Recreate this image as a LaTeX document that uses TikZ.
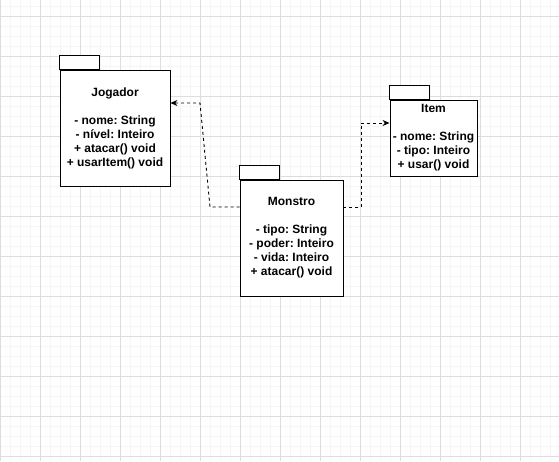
\documentclass[tikz,border=0pt]{standalone}
\usepackage{fontspec}
\setmainfont{Liberation Sans}
\usetikzlibrary{arrows.meta}

\definecolor{gridminor}{HTML}{F5F5F5}
\definecolor{gridmajor}{HTML}{DDDDDD}

\tikzset{
  classbox/.style={draw, line width=0.9pt, fill=white, align=center,
    font=\frenchspacing\bfseries\fontsize{12}{14}\selectfont, inner sep=0pt},
  classtab/.style={draw, line width=0.9pt, fill=white},
  dep/.style={line width=0.9pt, dash pattern=on 3pt off 3pt, -{Stealth[length=7pt,width=6pt]}}
}

\begin{document}
\begin{tikzpicture}[x=1pt,y=-1pt]

\useasboundingbox (0,0) rectangle (559,461);
\fill[white] (0,0) rectangle (559,461);

\foreach \gx in {0,10,...,550} \draw[gridminor, line width=0.7pt] (\gx,0) -- (\gx,461);
\foreach \gy in {6,16,...,456} \draw[gridminor, line width=0.7pt] (0,\gy) -- (559,\gy);
\foreach \gx in {0,40,...,520} \draw[gridmajor, line width=0.8pt] (\gx,0) -- (\gx,461);
\foreach \gy in {16,56,...,456} \draw[gridmajor, line width=0.8pt] (0,\gy) -- (559,\gy);

\node[classbox, minimum width=110pt, minimum height=116pt] (jogador) at (115,128)
  {Jogador\\ \\- nome: String\\- nível: Inteiro\\+ atacar() void\\+ usarItem() void};
\draw[classtab] (jogador.north west) rectangle ++(40,-14);

\node[classbox, minimum width=103pt, minimum height=116pt] (monstro) at (291.5,238)
  {Monstro\\ \\- tipo: String\\- poder: Inteiro\\- vida: Inteiro\\+ atacar() void};
\draw[classtab] (monstro.north west) rectangle ++(40,-14);

\node[classbox, minimum width=87pt, minimum height=76pt] (item) at (433.5,138)
  {Item\\ \\- nome: String\\- tipo: Inteiro\\+ usar() void};
\draw[classtab] (item.north west) rectangle ++(40,-14);

\coordinate (bendA) at (210,207);
\coordinate (bendB) at (200,103);
\coordinate (bendC) at (361,207);
\coordinate (bendD) at (361,123);

\draw[dep] ([yshift=31pt]monstro.west) -- (bendA) -- (bendB) -- ([yshift=25pt]jogador.east);
\draw[dep] ([yshift=31pt]monstro.east) -- (bendC) -- (bendD) -- ([yshift=15pt]item.west);

\end{tikzpicture}
\end{document}
